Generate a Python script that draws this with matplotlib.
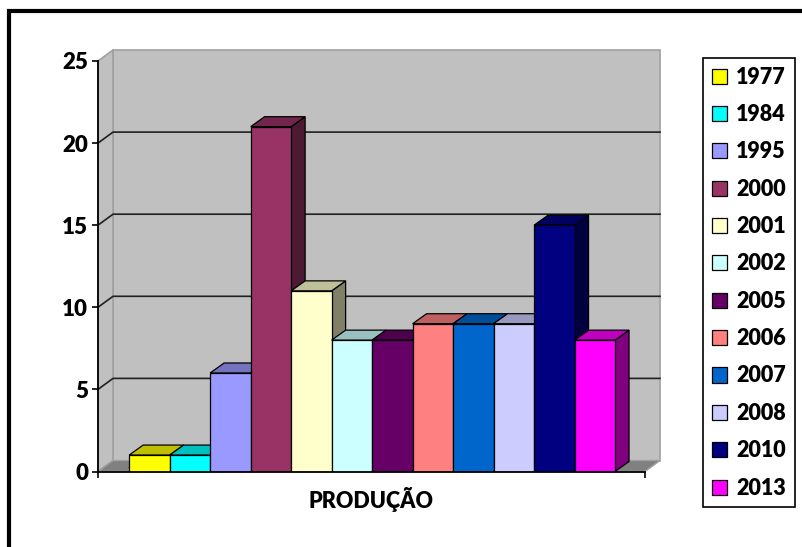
import numpy as np
import matplotlib.pyplot as plt
from matplotlib.patches import Polygon, Rectangle
from matplotlib.colors import to_rgb

plt.rcParams['font.family'] = ['Lato', 'DejaVu Sans']
plt.rcParams['font.weight'] = 'heavy'

# data
years = ['1977', '1984', '1995', '2000', '2001', '2002',
         '2005', '2006', '2007', '2008', '2010', '2013']
values = [1, 1, 6, 21, 11, 8, 8, 9, 9, 9, 15, 8]
colors = ['#FFFF00', '#00FFFF', '#9999FF', '#993366', '#FFFFCC', '#CCFFFF',
          '#660066', '#FF8080', '#0066CC', '#CCCCFF', '#000080', '#FF00FF']
yticks = [0, 5, 10, 15, 20, 25]
xlabel = 'PRODUÇÃO'

W, H = 802, 547
fig = plt.figure(figsize=(W / 100, H / 100), dpi=100)
ax = fig.add_axes([98 / W, (H - 471.5) / H, (645 - 98) / W, (471.5 - 61) / H])
ax.set_facecolor('none')
xmin, xmax = -1.27, 12.24
ax.set_xlim(xmin, xmax)
ax.set_ylim(0, 25)


def depth(px, py):
    # pixel offset -> data offset
    p0 = ax.transData.transform((0, 0))
    q = ax.transData.inverted().transform(p0 + np.array([px, py]))
    return q[0], q[1]


wdx, wdy = depth(15, 11)   # walls / floor depth
bdx, bdy = depth(14, 10)   # bar depth

wall = '#C0C0C0'
edge = '#A0A0A0'
# back wall
ax.add_patch(Polygon([(xmin + wdx, wdy), (xmax + wdx, wdy),
                      (xmax + wdx, 25 + wdy), (xmin + wdx, 25 + wdy)],
                     closed=True, fc=wall, ec=edge, lw=1.2, clip_on=False, zorder=0.5))
# side wall
ax.add_patch(Polygon([(xmin, 0), (xmin, 25), (xmin + wdx, 25 + wdy), (xmin + wdx, wdy)],
                     closed=True, fc=wall, ec=edge, lw=1.2, clip_on=False, zorder=0.6))
# floor
ax.add_patch(Polygon([(xmin, 0), (xmax, 0), (xmax + wdx, wdy), (xmin + wdx, wdy)],
                     closed=True, fc='#808080', ec=edge, lw=1.0, clip_on=False, zorder=0.6))

# gridlines
for v in yticks[1:-1]:
    ax.plot([xmin, xmin + wdx, xmax + wdx], [v, v + wdy, v + wdy],
            color='#202020', lw=1.2, clip_on=False, zorder=0.8)


def shade(c, f):
    r, g, b = to_rgb(c)
    return (r * f, g * f, b * f)


x = np.arange(len(values))
bars = ax.bar(x, values, width=1.0, color=colors, edgecolor='black', lw=0.9, zorder=2)
for i, (xi, v, c) in enumerate(zip(x, values, colors)):
    xl, xr = xi - 0.5, xi + 0.5
    z = 2 + i * 0.1
    bars.patches[i].set_zorder(z + 0.05)
    ax.add_patch(Polygon([(xr, 0), (xr, v), (xr + bdx, v + bdy), (xr + bdx, bdy)],
                         closed=True, fc=shade(c, 0.5), ec='black', lw=0.9,
                         clip_on=False, zorder=z))
    ax.add_patch(Polygon([(xl, v), (xr, v), (xr + bdx, v + bdy), (xl + bdx, v + bdy)],
                         closed=True, fc=shade(c, 0.75), ec='black', lw=0.9,
                         clip_on=False, zorder=z + 0.01))

# axes
for s in ['top', 'right']:
    ax.spines[s].set_visible(False)
ax.spines['left'].set_linewidth(1.3)
ax.spines['bottom'].set_linewidth(1.3)
ax.spines['left'].set_zorder(5)
ax.spines['bottom'].set_zorder(5)
ax.set_yticks(yticks)
ax.set_xticks([xmin, xmax])
ax.set_xticklabels([])
ax.tick_params(axis='y', length=4.5, width=1.2, pad=2.5, labelsize=16)
ax.tick_params(axis='x', length=4.5, width=1.2)
ax.set_xlabel(xlabel, fontsize=15.5, fontweight='heavy', labelpad=3)

leg = fig.legend(bars.patches, years, loc='upper left',
                 bbox_to_anchor=(703 / W, 1 - 58 / H), fontsize=15.5,
                 frameon=True, fancybox=False, edgecolor='black', framealpha=1,
                 handlelength=0.7, handleheight=0.7, handletextpad=0.45,
                 labelspacing=0.76, borderpad=0.4, borderaxespad=0)
leg.get_frame().set_linewidth(1.2)

# outer frame
fig.add_artist(Rectangle((9 / W, -0.1), 1.2, (H - 11) / H + 0.1, transform=fig.transFigure,
                         fill=False, ec='black', lw=3, zorder=10))

fig.savefig('out.png', dpi=100)
